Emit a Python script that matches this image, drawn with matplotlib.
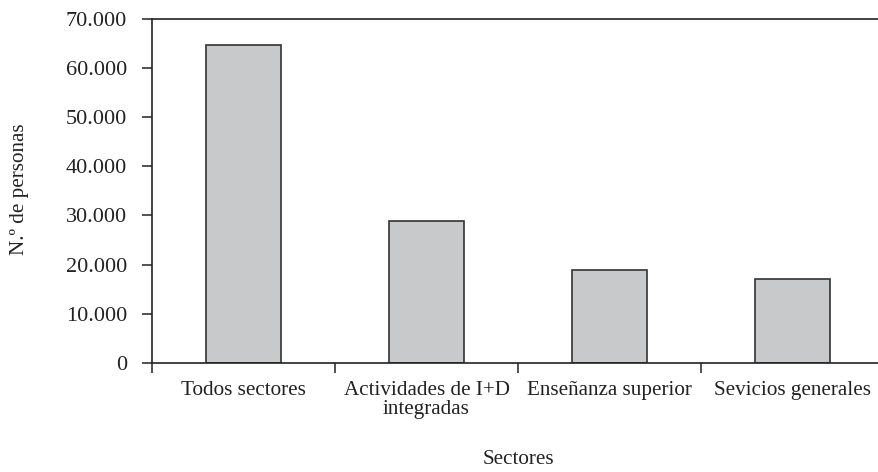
import matplotlib.pyplot as plt
from matplotlib.ticker import FuncFormatter, MultipleLocator

# Data
sectores = ['Todos sectores', 'Actividades de I+D\nintegradas',
            'Enseñanza superior', 'Sevicios generales']
personas = [64700, 28900, 18900, 17100]

plt.rcParams['font.family'] = ['Liberation Serif', 'DejaVu Serif']

fig = plt.figure(figsize=(8.79, 4.72), dpi=100)
W, H = 879, 472
left, right = 152, 884
top, bottom = 19.2, 362.7
ax = fig.add_axes([left / W, (H - bottom) / H, (right - left) / W, (bottom - top) / H])

x = list(range(len(sectores)))
ax.bar(x, personas, width=0.405, color='#c8c9cb', edgecolor='#333333', linewidth=1.2)

ax.set_xlim(-0.5, len(sectores) - 0.5)
ax.set_ylim(0, 70000)
ax.yaxis.set_major_locator(MultipleLocator(10000))
ax.yaxis.set_major_formatter(FuncFormatter(lambda v, p: f'{int(v):,}'.replace(',', '.')))

fs = 15.2
ax.set_xticks(x)
ax.set_xticklabels(sectores, fontsize=fs, color='#222222', linespacing=1.0)
ax.set_xticks([i - 0.5 for i in range(len(sectores))], minor=True)
ax.tick_params(axis='x', which='major', length=0, pad=13)
ax.tick_params(axis='x', which='minor', length=7, width=1.1, direction='out', color='#222222')
ax.tick_params(axis='y', length=7, width=1.1, direction='out', pad=11, labelsize=16,
               color='#222222', labelcolor='#222222')

for s in ['left', 'top', 'bottom']:
    ax.spines[s].set_color('#222222')
    ax.spines[s].set_linewidth(1.2)
ax.spines['right'].set_visible(False)

fig.text(20 / W, 1 - 189 / H, 'N.º de personas', fontsize=fs, color='#222222',
         rotation=90, ha='center', va='center')
fig.text(518 / W, 1 - 459 / H, 'Sectores', fontsize=fs, color='#222222',
         ha='center', va='center')

fig.savefig('out.png', dpi=100)
